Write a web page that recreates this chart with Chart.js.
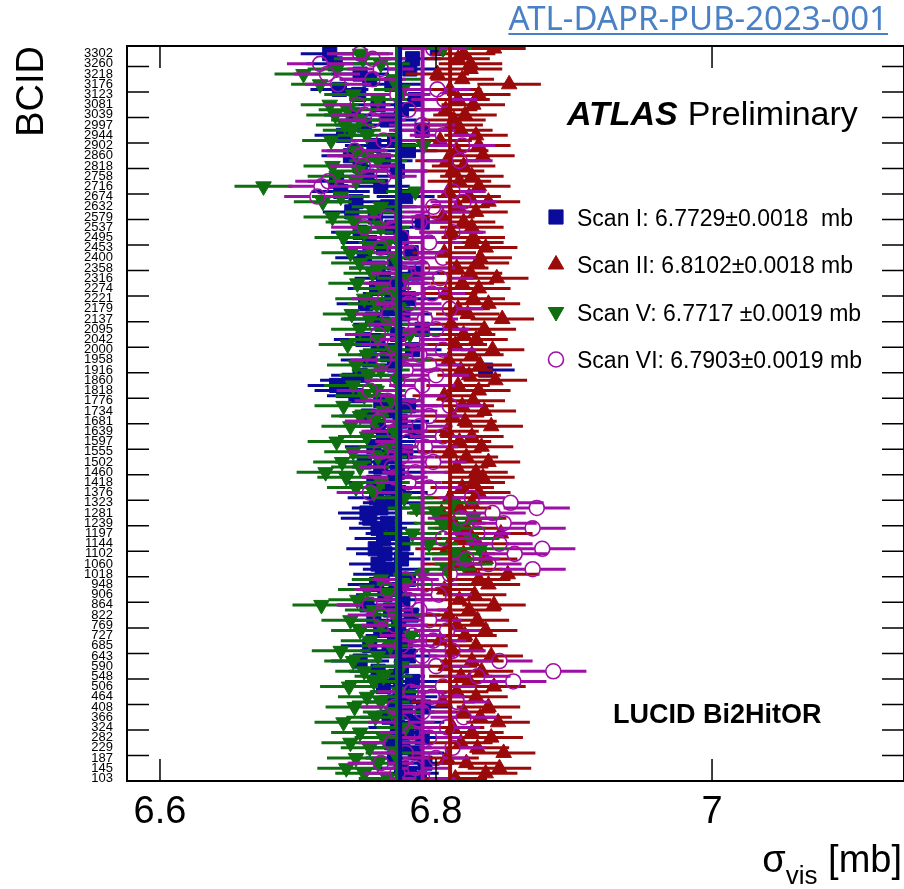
<!DOCTYPE html>
<html>
<head>
<meta charset="utf-8">
<script src="https://cdn.jsdelivr.net/npm/chart.js@4.4.0/dist/chart.umd.min.js"></script>
<style>body{margin:0;background:#fff}canvas{display:block}</style>
</head>
<body>
<canvas id="chart" width="904" height="889"></canvas>
<script>
// BCID labels, bottom to top (one label every second bunch row)
const bcidLabels = [103, 145, 187, 229, 282, 324, 366, 408, 464, 506, 548, 590, 643, 685, 727, 769,
  822, 864, 906, 948, 1018, 1060, 1102, 1144, 1197, 1239, 1281, 1323, 1376, 1418, 1460, 1502,
  1555, 1597, 1639, 1681, 1734, 1776, 1818, 1860, 1916, 1958, 2000, 2042, 2095, 2137, 2179, 2221,
  2274, 2316, 2358, 2400, 2453, 2495, 2537, 2579, 2632, 2674, 2716, 2758, 2818, 2860, 2902, 2944,
  2997, 3039, 3081, 3123, 3176, 3218, 3260, 3302];

const xTicks = [6.6, 6.8, 7.0];

const legendTexts = [
  "Scan I: 6.7729\u00b10.0018  mb",
  "Scan II: 6.8102\u00b10.0018 mb",
  "Scan V: 6.7717 \u00b10.0019 mb",
  "Scan VI: 6.7903\u00b10.0019 mb",
];
const scanMeans = [6.7729, 6.8102, 6.7717, 6.7903];
const scanErrors = [0.021, 0.023, 0.021, 0.024];

// sigma_vis per bunch row [mb], bottom to top
const scan1 = [
  6.788, 6.781, 6.775, 6.792, 6.770, 6.785, 6.776, 6.768, 6.790, 6.779, 6.772, 6.785, 6.766, 6.778, 6.791, 6.770, 6.780, 6.774, 6.762, 6.783,
  6.771, 6.758, 6.775, 6.745, 6.780, 6.766, 6.752, 6.778, 6.770, 6.760, 6.773, 6.755, 6.782, 6.767, 6.750, 6.776, 6.763, 6.771, 6.757, 6.780,
  6.761, 6.768, 6.758, 6.775, 6.763, 6.756, 6.776, 6.762, 6.770, 6.758, 6.765, 6.752, 6.750, 6.760, 6.768, 6.757, 6.773, 6.764, 6.755, 6.770,
  6.772, 6.760, 6.748, 6.765, 6.778, 6.755, 6.770, 6.762, 6.785, 6.758, 6.774, 6.751, 6.767, 6.780, 6.760, 6.742, 6.733, 6.728, 6.737, 6.745,
  6.836, 6.770, 6.752, 6.765, 6.783, 6.758, 6.747, 6.772, 6.790, 6.761, 6.754, 6.776, 6.765, 6.749, 6.780, 6.768, 6.757, 6.773, 6.762, 6.785,
  6.758, 6.770, 6.748, 6.782, 6.762, 6.752, 6.775, 6.745, 6.768, 6.790, 6.756, 6.739, 6.765, 6.742, 6.778, 6.731, 6.760, 6.728, 6.750, 6.772,
  6.745, 6.762, 6.738, 6.780, 6.755, 6.770, 6.733, 6.790, 6.748, 6.765, 6.740, 6.775, 6.758, 6.785, 6.744, 6.730, 6.768, 6.752, 6.745, 6.781, 6.727, 6.783, 6.723, 6.801,
];
const scan2 = [
  6.814, 6.836, 6.846, 6.822, 6.808, 6.849, 6.830, 6.818, 6.840, 6.826, 6.812, 6.845, 6.832, 6.820, 6.838, 6.805, 6.829, 6.815, 6.842, 6.824,
  6.818, 6.833, 6.807, 6.826, 6.840, 6.812, 6.829, 6.803, 6.821, 6.836, 6.815, 6.830, 6.809, 6.824, 6.842, 6.817, 6.828, 6.806, 6.838, 6.831,
  6.852, 6.825, 6.812, 6.836, 6.820, 6.808, 6.830, 6.818, 6.847, 6.822, 6.813, 6.828, 6.804, 6.817, 6.826, 6.810, 6.831, 6.819, 6.827, 6.834,
  6.829, 6.815, 6.838, 6.822, 6.810, 6.833, 6.817, 6.826, 6.808, 6.840, 6.821, 6.812, 6.835, 6.819, 6.827, 6.806, 6.831, 6.816, 6.843, 6.824,
  6.818, 6.832, 6.809, 6.826, 6.841, 6.814, 6.829, 6.820, 6.835, 6.811, 6.848, 6.823, 6.816, 6.838, 6.827, 6.807, 6.831, 6.819, 6.844, 6.825,
  6.815, 6.830, 6.832, 6.806, 6.836, 6.826, 6.827, 6.811, 6.826, 6.820, 6.805, 6.829, 6.816, 6.838, 6.824, 6.809, 6.831, 6.817, 6.826, 6.812,
  6.820, 6.808, 6.834, 6.815, 6.831, 6.803, 6.829, 6.818, 6.811, 6.813, 6.821, 6.807, 6.827, 6.816, 6.831, 6.810, 6.853, 6.819, 6.801, 6.825, 6.825, 6.816, 6.820, 6.842,
];
const scan5 = [
  6.765, 6.748, 6.735, 6.758, 6.742, 6.770, 6.752, 6.738, 6.762, 6.745, 6.778, 6.733, 6.756, 6.768, 6.741, 6.760, 6.750, 6.773, 6.737, 6.755,
  6.762, 6.748, 6.775, 6.740, 6.758, 6.731, 6.767, 6.752, 6.782, 6.745, 6.760, 6.738, 6.770, 6.755, 6.717, 6.743, 6.765, 6.750, 6.778, 6.760,
  6.790, 6.808, 6.820, 6.818, 6.813, 6.832, 6.795, 6.825, 6.783, 6.815, 6.805, 6.827, 6.800, 6.786, 6.812, 6.777, 6.755, 6.742, 6.760, 6.735,
  6.720, 6.745, 6.732, 6.758, 6.740, 6.765, 6.728, 6.750, 6.770, 6.738, 6.755, 6.745, 6.762, 6.733, 6.768, 6.748, 6.757, 6.740, 6.772, 6.751,
  6.760, 6.742, 6.775, 6.750, 6.768, 6.736, 6.758, 6.781, 6.745, 6.765, 6.752, 6.739, 6.773, 6.757, 6.748, 6.770, 6.761, 6.743, 6.778, 6.754,
  6.758, 6.745, 6.770, 6.738, 6.752, 6.765, 6.733, 6.748, 6.760, 6.741, 6.725, 6.755, 6.760, 6.718, 6.731, 6.785, 6.675, 6.742, 6.728, 6.744,
  6.725, 6.758, 6.750, 6.742, 6.791, 6.724, 6.750, 6.739, 6.734, 6.745, 6.727, 6.736, 6.723, 6.758, 6.740, 6.776, 6.716, 6.769, 6.704, 6.728, 6.760, 6.747, 6.745, 6.805,
];
const scan6 = [
  6.790, 6.772, 6.785, 6.760, 6.800, 6.778, 6.812, 6.768, 6.795, 6.783, 6.808, 6.775, 6.820, 6.790, 6.770, 6.815, 6.797, 6.782, 6.805, 6.856,
  6.830, 6.885, 6.800, 6.846, 6.790, 6.812, 6.775, 6.798, 6.783, 6.808, 6.770, 6.795, 6.760, 6.788, 6.752, 6.780, 6.802, 6.765, 6.792, 6.778,
  6.810, 6.870, 6.838, 6.822, 6.857, 6.877, 6.846, 6.805, 6.830, 6.870, 6.849, 6.818, 6.841, 6.873, 6.854, 6.826, 6.752, 6.795, 6.780, 6.770,
  6.785, 6.768, 6.798, 6.775, 6.760, 6.792, 6.780, 6.805, 6.770, 6.788, 6.758, 6.795, 6.777, 6.810, 6.765, 6.783, 6.752, 6.790, 6.772, 6.800,
  6.778, 6.795, 6.762, 6.788, 6.805, 6.770, 6.783, 6.758, 6.800, 6.775, 6.792, 6.766, 6.810, 6.780, 6.763, 6.797, 6.785, 6.772, 6.803, 6.777,
  6.790, 6.770, 6.805, 6.782, 6.760, 6.795, 6.775, 6.812, 6.748, 6.788, 6.765, 6.800, 6.798, 6.820, 6.714, 6.812, 6.717, 6.722, 6.762, 6.770,
  6.747, 6.817, 6.745, 6.741, 6.819, 6.762, 6.805, 6.790, 6.790, 6.754, 6.748, 6.780, 6.743, 6.806, 6.772, 6.801, 6.729, 6.754, 6.721, 6.760, 6.716, 6.754, 6.745, 6.798,
];

const FONT = '"Liberation Sans", Arial, Helvetica, sans-serif';
const colors = {
  blue: "#0b0b9b",
  red: "#9b0a0a",
  green: "#0f6e0f",
  purple: "#a00fa5",
};

// bunch row k sits at bin centre k + 0.5 on the y axis
const toPoints = (values) => values.map((v, k) => ({ x: v, y: k + 0.5 }));

const errorBars = {
  id: "errorBars",
  beforeDatasetDraw(chart, args) {
    const ds = chart.data.datasets[args.index];
    const xs = chart.scales.x;
    const a = chart.chartArea;
    const ctx = chart.ctx;
    ctx.save();
    ctx.beginPath();
    ctx.rect(a.left, a.top, a.right - a.left, a.bottom - a.top);
    ctx.clip();
    ctx.strokeStyle = ds.borderColor;
    ctx.lineWidth = 3;
    const gap = ds.hollow ? ds.pointRadius : 0;
    args.meta.data.forEach((pt, i) => {
      const v = ds.data[i].x;
      const x0 = xs.getPixelForValue(v - ds.xErr);
      const x1 = xs.getPixelForValue(v + ds.xErr);
      ctx.beginPath();
      ctx.moveTo(x0, pt.y);
      ctx.lineTo(pt.x - gap, pt.y);
      ctx.moveTo(pt.x + gap, pt.y);
      ctx.lineTo(x1, pt.y);
      ctx.stroke();
    });
    ctx.restore();
  },
};

const decorations = {
  id: "decorations",
  afterDatasetsDraw(chart) {
    const ctx = chart.ctx;
    const a = chart.chartArea;
    const xs = chart.scales.x;
    const ys = chart.scales.y;
    ctx.save();
    // mean lines (green first so the blue one next to it stays visible)
    [2, 0, 3, 1].forEach((i) => {
      const ds = chart.data.datasets[i];
      const x = xs.getPixelForValue(scanMeans[i]) + (i === 0 ? 1.5 : 0);
      ctx.strokeStyle = ds.borderColor;
      ctx.lineWidth = 4;
      ctx.beginPath();
      ctx.moveTo(x, a.top);
      ctx.lineTo(x, a.bottom);
      ctx.stroke();
    });
    // frame and inward ticks
    ctx.strokeStyle = "#000";
    ctx.lineWidth = 1.5;
    for (let v = 0; v <= 140; v += 5) {
      const y = ys.getPixelForValue(v);
      ctx.beginPath();
      ctx.moveTo(a.left, y); ctx.lineTo(a.left + 22, y);
      ctx.moveTo(a.right, y); ctx.lineTo(a.right - 22, y);
      ctx.stroke();
    }
    xTicks.forEach((v) => {
      const x = xs.getPixelForValue(v);
      ctx.beginPath();
      ctx.moveTo(x, a.bottom); ctx.lineTo(x, a.bottom - 22);
      ctx.moveTo(x, a.top); ctx.lineTo(x, a.top + 22);
      ctx.stroke();
    });
    ctx.lineWidth = 2;
    ctx.strokeRect(a.left, a.top, a.right - a.left, a.bottom - a.top);

    // labels
    ctx.fillStyle = "#000";
    ctx.textBaseline = "alphabetic";
    ctx.textAlign = "left";
    ctx.font = "italic bold 34px " + FONT;
    ctx.fillText("ATLAS", 567, 125);
    const w = ctx.measureText("ATLAS").width;
    ctx.font = "34px " + FONT;
    ctx.fillText("Preliminary", 567 + w + 10, 125);

    ctx.font = "bold 27px " + FONT;
    ctx.fillText("LUCID Bi2HitOR", 613, 723);

    // legend
    const rowY = [217, 264.5, 312, 359.5];
    chart.data.datasets.forEach((ds, i) => {
      ctx.fillStyle = ds.backgroundColor;
      ctx.strokeStyle = ds.borderColor;
      ctx.lineWidth = ds.borderWidth;
      Chart.helpers.drawPoint(ctx, {
        pointStyle: ds.pointStyle,
        radius: ds.pointRadius,
        rotation: ds.pointRotation || 0,
        borderWidth: ds.borderWidth,
      }, 556, rowY[i]);
      ctx.fillStyle = "#000";
      ctx.font = "23px " + FONT;
      ctx.fillText(legendTexts[i], 577, rowY[i] + 8.5);
    });

    // x axis title with subscript
    ctx.font = "38px " + FONT;
    const wSig = ctx.measureText("\u03c3").width;
    const wUnit = ctx.measureText(" [mb]").width;
    ctx.font = "26px " + FONT;
    const wVis = ctx.measureText("vis").width;
    let x = 902 - wSig - wVis - wUnit;
    ctx.font = "38px " + FONT;
    ctx.fillText("\u03c3", x, 872);
    ctx.font = "26px " + FONT;
    ctx.fillText("vis", x + wSig, 884);
    ctx.font = "38px " + FONT;
    ctx.fillText(" [mb]", x + wSig + wVis, 872);

    // document reference
    ctx.font = '33px "Noto Sans", "Open Sans", sans-serif';
    ctx.fillStyle = "#4a80c5";
    ctx.textAlign = "right";
    ctx.fillText("ATL-DAPR-PUB-2023-001", 888, 30);
    const wl = ctx.measureText("ATL-DAPR-PUB-2023-001").width;
    ctx.fillRect(888 - wl, 33, wl, 2);
    ctx.restore();
  },
};

function scanDataset(label, values, color, style, i, extra) {
  return Object.assign({
    label: label,
    data: toPoints(values),
    xErr: scanErrors[i],
    order: 4 - i,
    clip: 0,
    backgroundColor: color,
    borderColor: color,
    borderWidth: 1,
    pointStyle: style,
    pointRadius: 9,
    pointHoverRadius: 9,
  }, extra || {});
}

new Chart(document.getElementById("chart"), {
  type: "scatter",
  data: {
    datasets: [
      scanDataset("Scan I", scan1, colors.blue, "rect", 0, { pointRadius: 10 }),
      scanDataset("Scan II", scan2, colors.red, "triangle", 1),
      scanDataset("Scan V", scan5, colors.green, "triangle", 2, { pointRotation: 180 }),
      scanDataset("Scan VI", scan6, colors.purple, "circle", 3,
        { pointRadius: 7.5, pointHoverRadius: 7.5, backgroundColor: "rgba(0,0,0,0)", borderWidth: 1.6, hollow: true }),
    ],
  },
  options: {
    responsive: false,
    animation: false,
    devicePixelRatio: 1,
    events: [],
    layout: { autoPadding: false, padding: { top: 46, left: 0, right: 0, bottom: 0 } },
    plugins: { legend: { display: false }, tooltip: { enabled: false } },
    scales: {
      x: {
        type: "linear",
        min: 6.5761,
        max: 7.1391,
        afterBuildTicks: (s) => { s.ticks = xTicks.map((v) => ({ value: v })); },
        afterFit: (s) => { s.height = 108; s.paddingLeft = 0; s.paddingRight = 0; },
        grid: { display: false, drawTicks: false },
        border: { display: false },
        ticks: {
          color: "#000",
          padding: 9,
          font: { family: FONT, size: 38 },
          callback: (v) => String(Math.round(v * 10) / 10),
        },
      },
      y: {
        type: "linear",
        min: 0,
        max: 144,
        afterBuildTicks: (s) => { s.ticks = bcidLabels.map((b, i) => ({ value: 2 * i + 0.5 })); },
        afterFit: (s) => { s.width = 127; s.paddingTop = 0; s.paddingBottom = 0; },
        grid: { display: false, drawTicks: false },
        border: { display: false },
        title: {
          display: true,
          text: "BCID",
          align: "end",
          color: "#000",
          padding: { top: 10, bottom: 4 },
          font: { family: FONT, size: 38 },
        },
        ticks: {
          autoSkip: false,
          color: "#000",
          padding: 14,
          font: { family: FONT, size: 13 },
          callback: (v, i) => String(bcidLabels[i]),
        },
      },
    },
  },
  plugins: [errorBars, decorations],
});
</script>
</body>
</html>
